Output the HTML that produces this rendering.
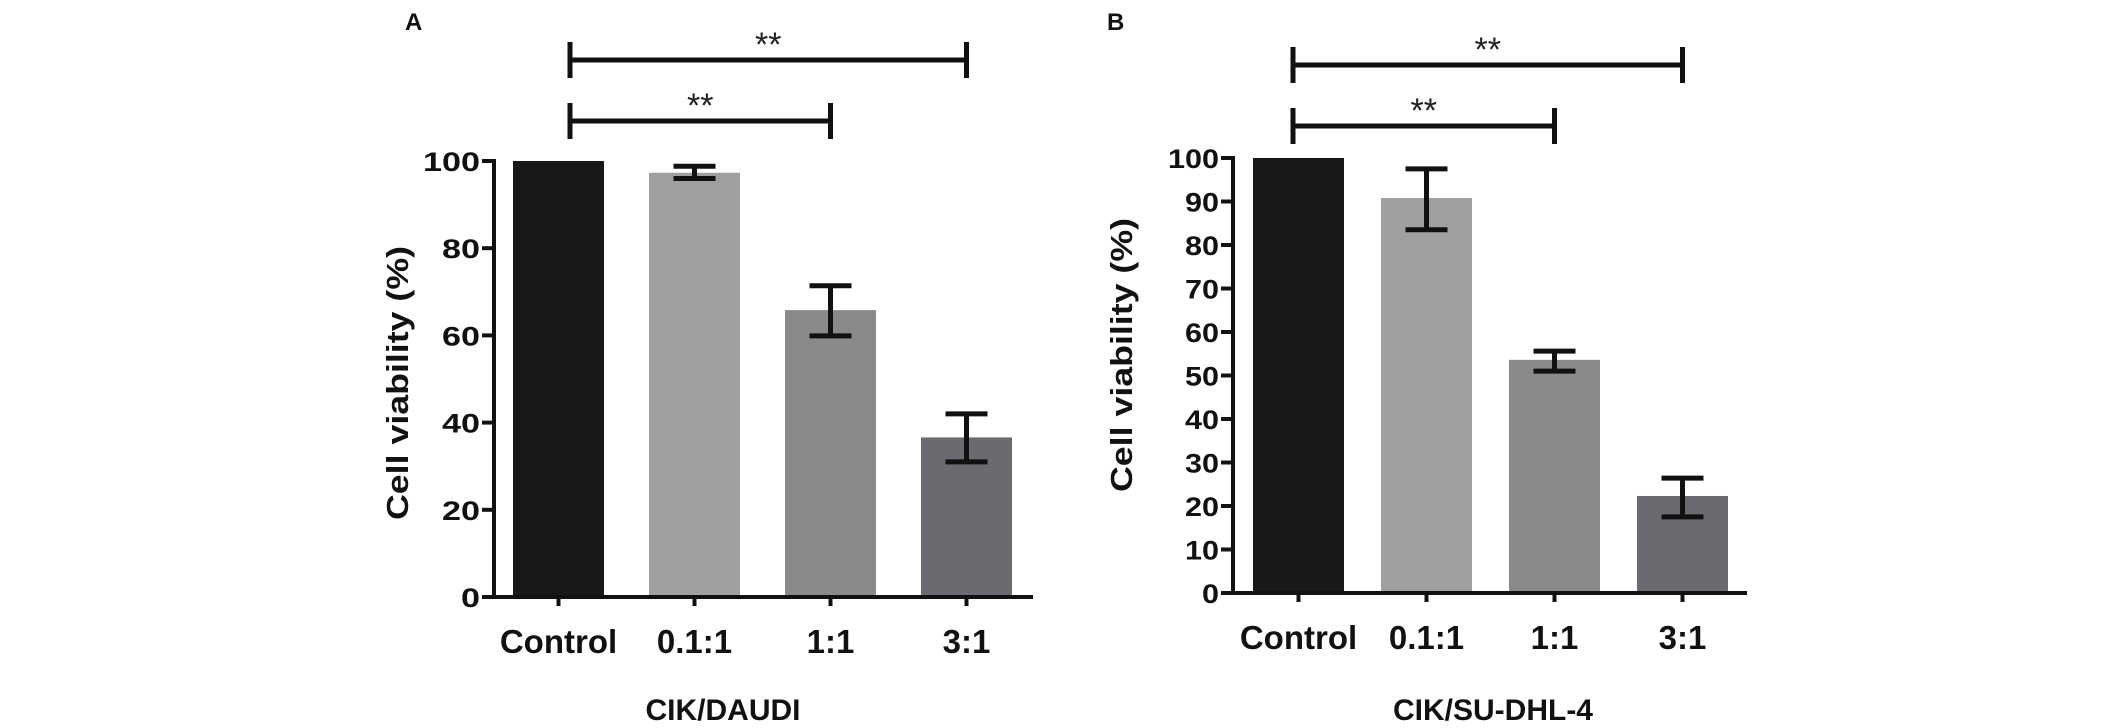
<!DOCTYPE html>
<html><head><meta charset="utf-8"><style>
html,body{margin:0;padding:0;background:#fff;}
svg{display:block;font-family:"Liberation Sans",Arial,sans-serif;}
</style></head><body>
<svg id="chart" width="2126" height="728" viewBox="0 0 2126 728" xmlns="http://www.w3.org/2000/svg"></svg>
<script>
const categories = ["Control", "0.1:1", "1:1", "3:1"];
const valuesA = [100, 97.3, 65.8, 36.6];
const errHiA = [100, 98.8, 71.4, 42];
const errLoA = [100, 96.0, 59.9, 31];
const valuesB = [100, 90.8, 53.6, 22.3];
const errHiB = [100, 97.5, 55.6, 26.4];
const errLoB = [100, 83.5, 51, 17.5];
const ticksA = [0, 20, 40, 60, 80, 100];
const ticksB = [0, 10, 20, 30, 40, 50, 60, 70, 80, 90, 100];
const barColors = ["#181818", "#a0a0a2", "#8a8a8c", "#6a6a70"];

const NS = "http://www.w3.org/2000/svg";
const svg = document.getElementById("chart");
function mk(tag, attrs, parent, text) {
  const e = document.createElementNS(NS, tag);
  for (const k in attrs) e.setAttribute(k, attrs[k]);
  if (text !== undefined) e.textContent = text;
  (parent || svg).appendChild(e);
  return e;
}

function panel(cfg) {
  const g = mk("g", {});
  
  
  const y = v => cfg.y0 - (v / 100) * (cfg.y0 - cfg.y100);
  const xl = i => cfg.barStart + i * cfg.step;
  const xc = i => xl(i) + cfg.barW / 2;
  cfg.values.forEach((v, i) => {
    const r = mk("rect", {x: xl(i), y: y(v), width: cfg.barW, height: cfg.y0 - y(v), fill: barColors[i]}, g);
    
    
    if (i > 0) {
      const eb = mk("path", {d: `M${xc(i)} ${y(cfg.hi[i])}V${y(cfg.lo[i])}M${xc(i)-21} ${y(cfg.hi[i])}H${xc(i)+21}M${xc(i)-21} ${y(cfg.lo[i])}H${xc(i)+21}`, stroke: "#111", "stroke-width": 5, fill: "none"}, g);
      
      
    }
    const t = mk("line", {x1: xc(i), x2: xc(i), y1: cfg.y0, y2: cfg.y0 + 9, stroke: "#111", "stroke-width": 4}, g);
    
    
    const lbl = mk("text", {x: xc(i), y: cfg.y0 + 56, "text-anchor": "middle", "font-size": 33, "font-weight": "bold", fill: "#111"}, g, categories[i]);
    
    
  });
  const ax = mk("path", {d: `M${cfg.axX} ${cfg.y100-2}V${cfg.y0}H${cfg.axEnd}`, stroke: "#111", "stroke-width": 4, fill: "none"}, g);
  
  
  cfg.ticks.forEach(v => {
    const t = mk("line", {x1: cfg.axX - 12, x2: cfg.axX, y1: y(v), y2: y(v), stroke: "#111", "stroke-width": 4}, g);
    
    
    const s = String(v);
    const lbl = mk("text", {x: cfg.axX - 14 - s.length * cfg.digitW, y: y(v) + 10, "font-size": 27, "font-weight": "bold", fill: "#111", textLength: s.length * cfg.digitW, lengthAdjust: "spacingAndGlyphs"}, g, s);
    
    
  });
  const yt = mk("text", {x: 0, y: 0, transform: `translate(${cfg.ylX},${cfg.ylY}) rotate(-90)`, "text-anchor": "middle", "font-size": 31, "font-weight": "bold", fill: "#111", textLength: 274, lengthAdjust: "spacingAndGlyphs"}, g, "Cell viability (%)");
  
  
  const xt = mk("text", {x: cfg.xtX, y: 720, "text-anchor": "middle", "font-size": 30, "font-weight": "bold", fill: "#111"}, g, cfg.xTitle);
  
  
  const pl = mk("text", {x: cfg.letterX, y: 30, "font-size": 24, "font-weight": "bold", fill: "#111"}, g, cfg.letter);
  
  
  cfg.brackets.forEach(b => {
    const x1 = cfg.bracketX, x2 = xc(b.to);
    const br = mk("path", {d: `M${x1} ${b.y}H${x2}M${x1} ${b.y - 18}V${b.y + 18}M${x2} ${b.y - 18}V${b.y + 18}`, stroke: "#111", "stroke-width": 5, fill: "none"}, g);
    
    
    const st = mk("text", {x: (x1 + x2) / 2, y: b.y - 4, "text-anchor": "middle", "font-size": 34, fill: "#222"}, g, "**");
    
    
  });
}

panel({id: "panel-a", letter: "A", letterX: 405, values: valuesA, hi: errHiA, lo: errLoA, ticks: ticksA,
  y0: 597, y100: 161, axX: 494, axEnd: 1033, barStart: 513, step: 136, barW: 91, digitW: 19,
  ylX: 408, ylY: 383, xtX: 723, xTitle: "CIK/DAUDI", bracketX: 570,
  brackets: [{y: 60, to: 3}, {y: 121, to: 2}]});
panel({id: "panel-b", letter: "B", letterX: 1107, values: valuesB, hi: errHiB, lo: errLoB, ticks: ticksB,
  y0: 593, y100: 158, axX: 1233, axEnd: 1747, barStart: 1253, step: 128, barW: 91, digitW: 17,
  ylX: 1132, ylY: 355, xtX: 1493, xTitle: "CIK/SU-DHL-4", bracketX: 1293,
  brackets: [{y: 65, to: 3}, {y: 126, to: 2}]});
</script>
</body></html>
